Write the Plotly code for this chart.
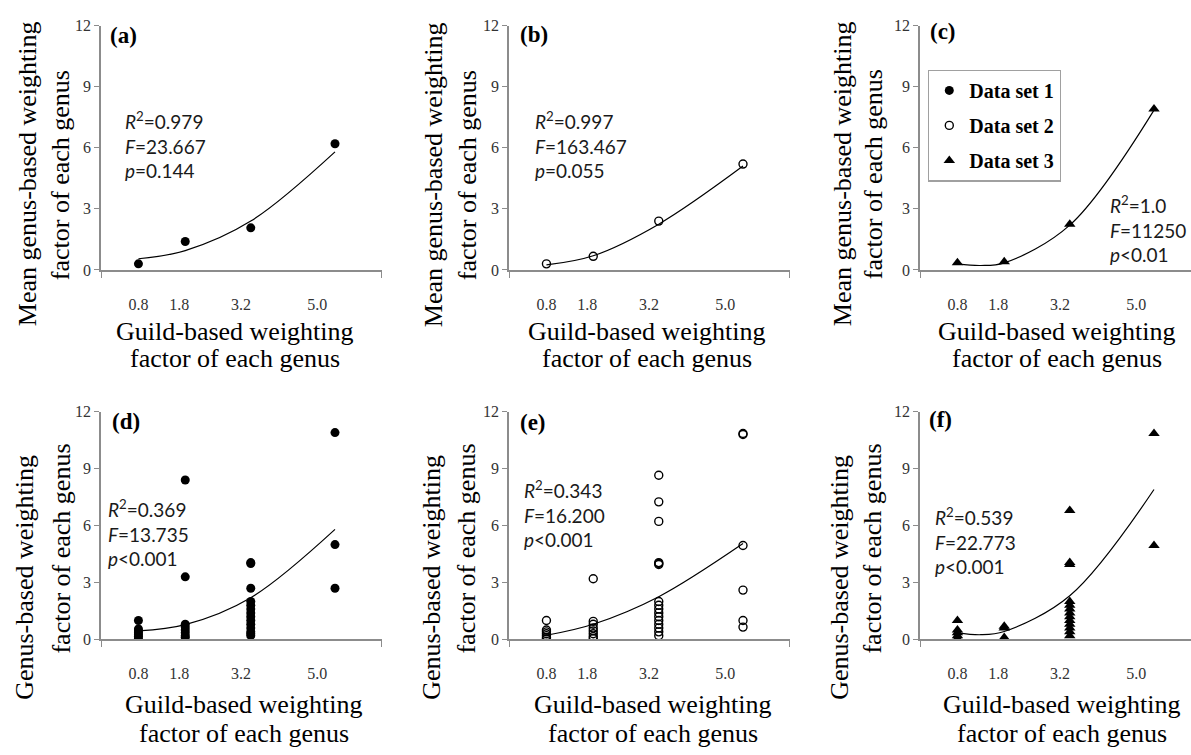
import plotly.graph_objects as go

W, H = 1191, 755

# ---------------- data ----------------
guild = [0.8, 1.8, 3.2, 5.0]
tick_labels = ["0.8", "1.8", "3.2", "5.0"]
y_ticks = [0, 3, 6, 9, 12]

# top row: mean genus-based weighting factor
mean_set1 = [0.3, 1.4, 2.07, 6.2]
mean_set2 = [0.3, 0.67, 2.4, 5.2]
mean_set3 = [0.35, 0.4, 2.25, 7.9]

# trend lines
trend_a_x = [0.8, 1.8, 3.2, 5.0]
trend_a_y = [0.55, 0.95, 2.4, 5.8]
trend_b_x = [0.8, 1.8, 3.2, 5.0]
trend_b_y = [0.25, 0.7, 2.25, 5.1]
trend_c_x = [0.8, 1.3, 1.8, 3.2, 5.0]
trend_c_y = [0.3, 0.22, 0.35, 2.2, 7.85]
trend_d_x = [0.8, 1.8, 3.2, 5.0]
trend_d_y = [0.45, 0.78, 2.2, 5.8]
trend_e_x = [0.8, 1.8, 3.2, 5.0]
trend_e_y = [0.22, 0.8, 2.25, 5.05]
trend_f_x = [0.8, 1.3, 1.8, 3.2, 5.0]
trend_f_y = [0.35, 0.25, 0.42, 2.3, 7.9]

# bottom row: individual genus-based weighting factors
set1_x = [0.8]*7 + [1.8]*8 + [3.2]*14 + [5.0]*3
set1_y = [1.0, 0.55, 0.45, 0.35, 0.25, 0.15, 0.05,
          8.4, 3.3, 0.8, 0.65, 0.5, 0.35, 0.2, 0.1,
          4.0, 4.05, 2.7, 2.0, 1.8, 1.6, 1.4, 1.2, 1.0, 0.8, 0.6, 0.4, 0.3, 0.2,
          10.9, 5.0, 2.7]
set2_x = [0.8]*7 + [1.8]*8 + [3.2]*16 + [5.0]*6
set2_y = [1.0, 0.5, 0.4, 0.3, 0.2, 0.1, 0.02,
          3.2, 0.95, 0.8, 0.6, 0.45, 0.3, 0.15, 0.05,
          8.65, 7.25, 6.22, 4.05, 4.0, 3.95, 2.0, 1.8, 1.6, 1.4, 1.2, 1.0, 0.8, 0.6, 0.4, 0.2,
          10.85, 10.8, 4.95, 2.6, 1.0, 0.65]
set3_x = [0.8]*5 + [1.8]*3 + [3.2]*13 + [5.0]*2
set3_y = [1.0, 0.5, 0.35, 0.2, 0.05,
          0.7, 0.6, 0.1,
          6.8, 4.05, 3.95, 2.0, 1.8, 1.6, 1.4, 1.2, 1.0, 0.8, 0.6, 0.4, 0.2,
          10.85, 4.95]

stats = {
    "a": ("0.979", "=23.667", "=0.144"),
    "b": ("0.997", "=163.467", "=0.055"),
    "c": ("1.0", "=11250", "<0.01"),
    "d": ("0.369", "=13.735", "<0.001"),
    "e": ("0.343", "=16.200", "<0.001"),
    "f": ("0.539", "=22.773", "<0.001"),
}

# ---------------- layout helpers ----------------
def px(x):
    return x / W

def py(y):
    return 1 - y / H

SERIF = "Liberation Serif"
SANS = "Lato"
GRAY = "#8c8c8c"
TICKC = "#333333"
SCALE = 46.8  # px per x unit

cols = [(101, 382), (509, 790), (920, 1191)]
rows = [(18, 268), (413, 646)]
tick_pos = [0.8, 1.67, 2.99, 4.62]

fig = go.Figure()

panels = [(r, c) for r in range(2) for c in range(3)]

layout = dict(
    width=W, height=H,
    margin=dict(l=0, r=0, t=0, b=0),
    paper_bgcolor="white", plot_bgcolor="white",
    showlegend=True,
    legend=dict(
        x=px(928), y=py(63), xanchor="left", yanchor="top",
        bordercolor="#a0a0a0", borderwidth=1.3, bgcolor="white",
        font=dict(family=SERIF, size=20, color="black", weight="bold"),
        tracegroupgap=6, itemwidth=30,
    ),
)

for i, (r, c) in enumerate(panels):
    k = "" if i == 0 else str(i + 1)
    x0, x1 = cols[c]
    y0, y1 = rows[r]
    xmax = (x1 - x0) / SCALE
    layout["xaxis" + k] = dict(
        domain=[px(x0), px(x1)], range=[0, xmax], anchor="y" + k,
        showline=True, linecolor=GRAY, linewidth=1.5, showgrid=False, zeroline=False,
        tickmode="array", tickvals=tick_pos, ticktext=tick_labels, ticks="",
        ticklabelstandoff=19,
        tickfont=dict(family=SERIF, size=16, color=TICKC),
        minor=dict(tickvals=[0, 6], ticks="outside", ticklen=6, tickcolor=GRAY, tickwidth=1.3),
        fixedrange=True,
    )
    layout["yaxis" + k] = dict(
        domain=[py(y1), py(y0)], range=[0, 12], anchor="x" + k,
        showline=True, linecolor=GRAY, linewidth=1.5, showgrid=False, zeroline=False,
        tickmode="array", tickvals=y_ticks, ticks="outside", ticklen=5, tickcolor=GRAY,
        tickwidth=1.3,
        tickfont=dict(family=SERIF, size=16, color=TICKC),
        fixedrange=True,
    )

fig.update_layout(**layout)

def ax(i):
    k = "" if i == 0 else str(i + 1)
    return "x" + k, "y" + k

m1 = dict(symbol="circle", size=9, color="black")
m2 = dict(symbol="circle-open", size=8, color="black", line=dict(width=1.4, color="black"))
m3 = dict(symbol="triangle-up", size=10, color="black")

line_style = dict(color="black", width=1.2, shape="spline")

trends = [(trend_a_x, trend_a_y), (trend_b_x, trend_b_y), (trend_c_x, trend_c_y),
          (trend_d_x, trend_d_y), (trend_e_x, trend_e_y), (trend_f_x, trend_f_y)]
scatter = [
    (guild, mean_set1, m1, "Data set 1", True, "g1"),
    (guild, mean_set2, m2, "Data set 2", True, "g2"),
    (guild, mean_set3, m3, "Data set 3", True, "g3"),
    (set1_x, set1_y, m1, "Data set 1", False, "g1"),
    (set2_x, set2_y, m2, "Data set 2", False, "g2"),
    (set3_x, set3_y, m3, "Data set 3", False, "g3"),
]

for i in range(6):
    xa, ya = ax(i)
    tx, ty = trends[i]
    fig.add_trace(go.Scatter(x=tx, y=ty, mode="lines", line=line_style,
                             xaxis=xa, yaxis=ya, showlegend=False, hoverinfo="skip"))
for i in range(6):
    xa, ya = ax(i)
    sx, sy, mk, name, sl, grp = scatter[i]
    fig.add_trace(go.Scatter(x=sx, y=sy, mode="markers", marker=mk, name=name,
                             legendgroup=grp, showlegend=sl, xaxis=xa, yaxis=ya))

ann = []
# panel labels
labels = ["(a)", "(b)", "(c)", "(d)", "(e)", "(f)"]
lab_pos = [(108, 28), (518, 27), (928, 24), (110, 423), (518, 424), (927, 421)]
for lab, (lx, ly) in zip(labels, lab_pos):
    ann.append(dict(text="<b>%s</b>" % lab, x=px(lx), y=py(ly), xref="paper", yref="paper",
                    xanchor="left", yanchor="middle", showarrow=False,
                    font=dict(family=SERIF, size=23, color="black")))

# stats text
stat_pos = {"a": (123, 140), "b": (533, 140), "c": (1108, 226),
            "d": (106, 537), "e": (522, 518), "f": (933, 545)}
for key, (r2, fv, pv) in stats.items():
    sx, sy = stat_pos[key]
    txt = "<i>R</i><sup>2</sup>=%s<br><i>F</i>%s<br><i>p</i>%s" % (r2, fv, pv)
    ann.append(dict(text=txt, x=px(sx), y=py(sy), xref="paper", yref="paper",
                    xanchor="left", yanchor="middle", align="left", showarrow=False,
                    font=dict(family=SANS, size=19, color="#1a1a1a")))

# y titles
ytitle_top = ["Mean genus-based weighting", "factor of each genus"]
ytitle_bot = ["Genus-based weighting", "factor of each genus"]
ypos_top = [((27, 170), (60, 171)), ((433, 171), (467, 171)), ((842, 170), (873, 170))]
ypos_bot = [((25, 583), (62, 553)), ((432, 583), (467, 553)), ((840, 583), (873, 553))]
for lines, poss in ((ytitle_top, ypos_top), (ytitle_bot, ypos_bot)):
    for pp in poss:
        for t, (tx, tyy) in zip(lines, pp):
            ann.append(dict(text=t, x=px(tx), y=py(tyy), xref="paper", yref="paper",
                            xanchor="center", yanchor="middle", textangle=-90, showarrow=False,
                            font=dict(family=SERIF, size=26, color="black")))

# x titles
xtitle = ["Guild-based weighting", "factor of each genus"]
xpos = [(235, 331, 359), (647, 331, 359), (1057, 331, 359),
        (244, 713, 742), (653, 713, 742), (1062, 713, 742)]
for (cx, l1, l2) in xpos:
    for t, yy in zip(xtitle, (l1, l2)):
        ann.append(dict(text=t, x=px(cx), y=py(yy), xref="paper", yref="paper",
                        xanchor="center", yanchor="middle", showarrow=False,
                        font=dict(family=SERIF, size=26, color="black")))

fig.update_layout(annotations=ann)

fig.write_html("out.html", config={"displayModeBar": False},
               post_script="document.body.style.margin='0';document.body.style.overflow='hidden';")
